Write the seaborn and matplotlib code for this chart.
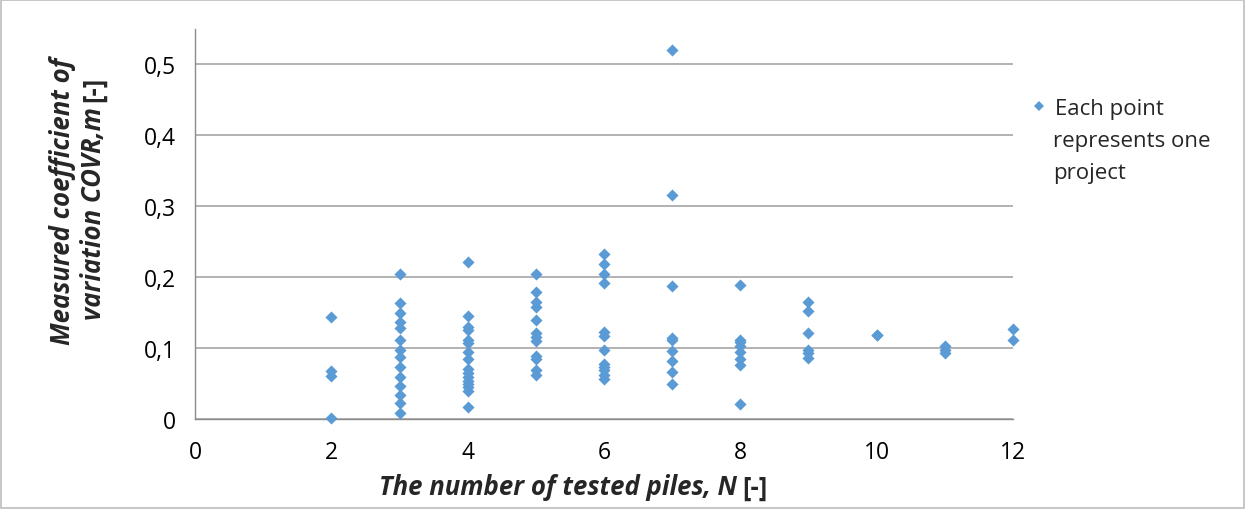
import matplotlib
matplotlib.use('Agg')
import matplotlib.pyplot as plt
import seaborn as sns
import pandas as pd
from matplotlib.ticker import FuncFormatter
from matplotlib.lines import Line2D

# measured COV per number of tested piles (one point = one project)
cov_n2 = [0.144, 0.068, 0.060, 0.001]
cov_n3 = [0.205, 0.164, 0.149, 0.137, 0.129, 0.112, 0.098, 0.088, 0.073,
          0.059, 0.046, 0.034, 0.022, 0.009]
cov_n4 = [0.221, 0.145, 0.130, 0.125, 0.112, 0.107, 0.095, 0.084, 0.071,
          0.065, 0.059, 0.054, 0.050, 0.045, 0.039, 0.017]
cov_n5 = [0.205, 0.179, 0.165, 0.158, 0.140, 0.121, 0.115, 0.110, 0.089,
          0.085, 0.069, 0.062]
cov_n6 = [0.233, 0.219, 0.204, 0.192, 0.123, 0.117, 0.097, 0.078, 0.074,
          0.069, 0.062, 0.057]
cov_n7 = [0.521, 0.316, 0.188, 0.114, 0.111, 0.096, 0.082, 0.066, 0.049]
cov_n8 = [0.189, 0.112, 0.108, 0.103, 0.094, 0.084, 0.076, 0.021]
cov_n9 = [0.165, 0.152, 0.121, 0.097, 0.093, 0.086]
cov_n10 = [0.118, 0.119]
cov_n11 = [0.103, 0.098, 0.093]
cov_n12 = [0.127, 0.111]

pile_counts = [2, 3, 4, 5, 6, 7, 8, 9, 10, 11, 12]
cov_lists = [cov_n2, cov_n3, cov_n4, cov_n5, cov_n6, cov_n7, cov_n8,
             cov_n9, cov_n10, cov_n11, cov_n12]

rows = []
for n, vals in zip(pile_counts, cov_lists):
    for v in vals:
        rows.append({'N': n, 'COV': v})
df = pd.DataFrame(rows)

sns.set_style('white')
plt.rcParams['font.family'] = ['Open Sans', 'DejaVu Sans']

blue = '#5B9BD5'
gray = '#8C8C8C'

fig = plt.figure(figsize=(12.45, 5.1), dpi=100, edgecolor='#C8C8C8', linewidth=1.5)
ax = fig.add_axes([195 / 1245, 1 - 420 / 510, 818 / 1245, 390 / 510])

sns.scatterplot(data=df, x='N', y='COV', ax=ax, marker='D', color=blue,
                s=38, linewidth=0, clip_on=False, zorder=3, legend=False)

ax.set_xlim(0, 12)
ax.set_ylim(0, 0.55)
ax.set_xticks(range(0, 13, 2))
ax.set_yticks([0, 0.1, 0.2, 0.3, 0.4, 0.5])
ax.yaxis.set_major_formatter(FuncFormatter(lambda v, p: '0' if v == 0 else f'{v:.1f}'.replace('.', ',')))
ax.set_xlabel('')
ax.set_ylabel('')

ax.yaxis.grid(True, color='#A6A6A6', linewidth=1.2)
ax.xaxis.grid(False)
ax.set_axisbelow(True)
for side in ['top', 'right']:
    ax.spines[side].set_visible(False)
for side in ['left', 'bottom']:
    ax.spines[side].set_color(gray)
    ax.spines[side].set_linewidth(1.0)
ax.tick_params(axis='both', colors=gray, length=6, width=1, labelsize=16.5,
               labelcolor='black', direction='out', pad=8)
ax.tick_params(axis='x', pad=9)

# axis titles: bold italic part + bold "[-]"
lab_font = dict(fontsize=18.5, fontweight='bold')
tx = fig.text(379 / 1245, 1 - 488 / 510, 'The number of tested piles, N',
              ha='left', va='center', fontstyle='italic', **lab_font)
ax.annotate('[-]', xy=(1, 0), xycoords=tx, xytext=(4, 0), textcoords='offset points',
            ha='left', va='bottom', **lab_font)

fig.text(63 / 1245, 1 - 201 / 510, 'Measured coefficient of', rotation=90,
         ha='center', va='center', fontstyle='italic', **lab_font)
ty = fig.text(94 / 1245, 1 - 320 / 510, 'variation COVR,m', rotation=90,
              ha='center', va='bottom', fontstyle='italic', **lab_font)
ax.annotate('[-]', xy=(0.5, 1), xycoords=ty, xytext=(0, 4), textcoords='offset points',
            rotation=90, ha='center', va='bottom', **lab_font)

# legend: marker beside first line, remaining lines below
handle = Line2D([], [], marker='D', linestyle='none', color=blue, markersize=5.5,
                markeredgewidth=0)
leg = fig.legend([handle], ['Each point'], loc='center left',
                 bbox_to_anchor=(1032 / 1245, 1 - 109 / 510), frameon=False,
                 handlelength=0.6, handletextpad=0.45, borderpad=0,
                 borderaxespad=0, fontsize=16)
fig.text(1053 / 1245, 1 - 142 / 510, 'represents one', ha='left', va='center', fontsize=16)
fig.text(1053 / 1245, 1 - 174 / 510, 'project', ha='left', va='center', fontsize=16)

fig.canvas.draw()
fig.savefig('out.png', dpi=100, edgecolor=fig.get_edgecolor())
